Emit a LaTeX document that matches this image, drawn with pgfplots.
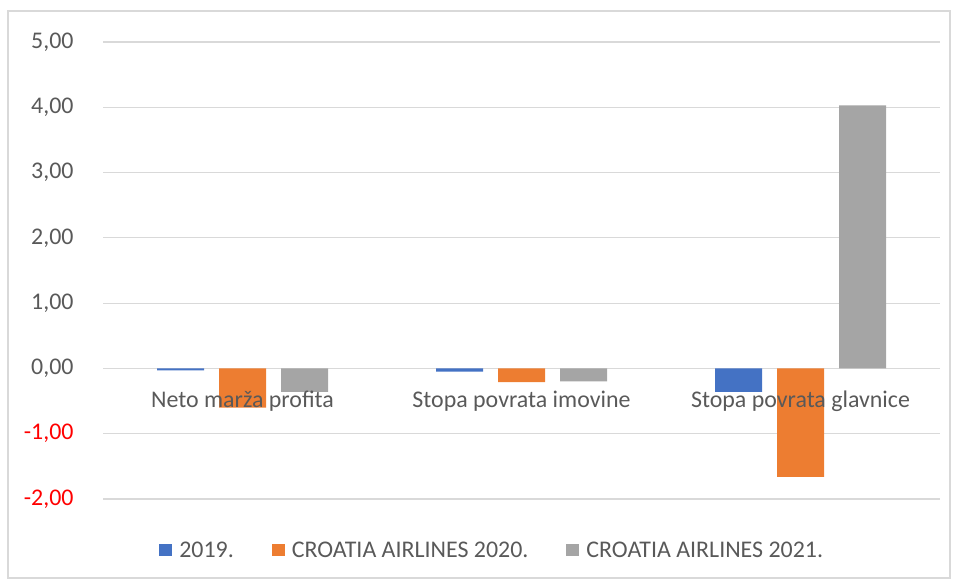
\documentclass[border=0pt]{standalone}
\usepackage{pgfplots}
\pgfplotsset{compat=1.18}
\usepackage{fontspec}
\setmainfont{Carlito}
\definecolor{cblue}{HTML}{4472C4}
\definecolor{corange}{HTML}{ED7D31}
\definecolor{cgray}{HTML}{A5A5A5}
\definecolor{txt}{HTML}{595959}
\definecolor{gridc}{HTML}{D9D9D9}
\begin{document}
\begin{tikzpicture}[x=1bp,y=1bp]
\path (0,0) rectangle (955,581);
\draw[gridc, line width=1.2bp] (8,3) rectangle (950,570);
\begin{axis}[
  set layers,
  every axis plot/.append style={on layer=axis ticks},
  at={(103bp,82bp)}, anchor=south west,
  scale only axis, width=837bp, height=457bp,
  ymin=-2, ymax=5, xmin=-0.5, xmax=2.5,
  ybar=15bp, bar width=47bp,
  axis line style={draw=none},
  tick style={draw=none},
  xmajorgrids=false, ymajorgrids=true,
  major grid style={draw=gridc, line width=1.2bp},
  xtick={0,1,2},
  xticklabels={Neto marža profita, Stopa povrata imovine, Stopa povrata glavnice},
  xticklabel style={anchor=center, yshift=102bp, font=\fontsize{24}{28}\selectfont, text=txt},
  ytick={-2,-1,0,1,2,3,4,5},
  yticklabels={{\color{red}-2,00},{\color{red}-1,00},{0,00},{1,00},{2,00},{3,00},{4,00},{5,00}},
  yticklabel style={xshift=-26bp, font=\fontsize{24}{28}\selectfont, text=txt},
  /pgf/number format/assume math mode=true,
  legend columns=3,
  legend style={at={(0.465,-0.1116)}, anchor=center, draw=none, fill=none,
    font=\fontsize{24}{28}\selectfont, text=txt,
    /tikz/every even column/.append style={column sep=36bp}},
  legend image code/.code={\fill[#1] (0bp,-6bp) rectangle (13bp,6bp); \path (18bp,0bp);},
]
\addplot[fill=cblue, draw=none] coordinates {(0,-0.03) (1,-0.05) (2,-0.36)};
\addplot[fill=corange, draw=none] coordinates {(0,-0.60) (1,-0.21) (2,-1.66)};
\addplot[fill=cgray, draw=none] coordinates {(0,-0.36) (1,-0.20) (2,4.03)};
\legend{2019., CROATIA AIRLINES 2020., CROATIA AIRLINES 2021.}
\end{axis}
\end{tikzpicture}
\end{document}
